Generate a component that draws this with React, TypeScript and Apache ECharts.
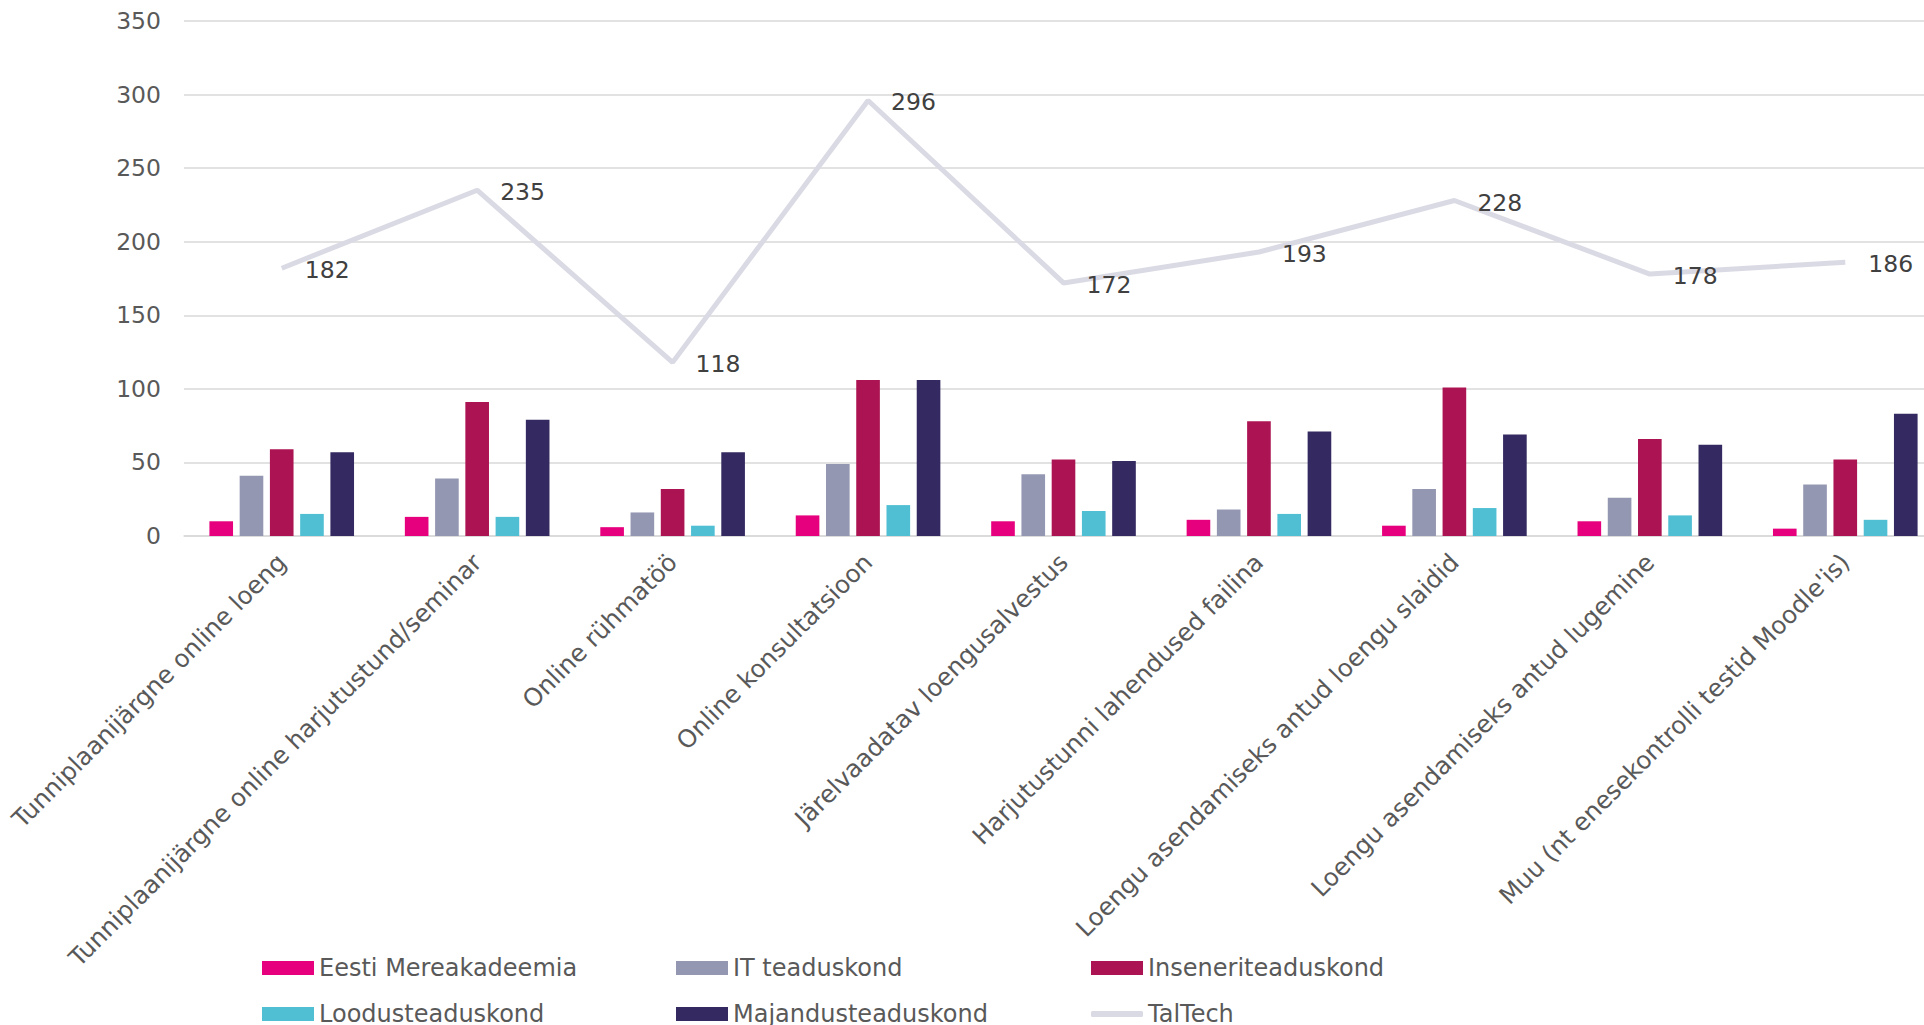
import React, { useEffect, useRef } from "react";
import * as echarts from "echarts";

const categories = [
  "Tunniplaanijärgne online loeng",
  "Tunniplaanijärgne online harjutustund/seminar",
  "Online rühmatöö",
  "Online konsultatsioon",
  "Järelvaadatav loengusalvestus",
  "Harjutustunni lahendused failina",
  "Loengu asendamiseks antud loengu slaidid",
  "Loengu asendamiseks antud lugemine",
  "Muu (nt enesekontrolli testid Moodle'is)",
];

const mereakadeemia = [10, 13, 6, 14, 10, 11, 7, 10, 5];
const itTeaduskond = [41, 39, 16, 49, 42, 18, 32, 26, 35];
const inseneri = [59, 91, 32, 106, 52, 78, 101, 66, 52];
const loodus = [15, 13, 7, 21, 17, 15, 19, 14, 11];
const majandus = [57, 79, 57, 106, 51, 71, 69, 62, 83];
const talTech = [182, 235, 118, 296, 172, 193, 228, 178, 186];

const yTicks = { min: 0, max: 350, interval: 50 };

const FONT = "DejaVu Sans";
const LINE_COLOR = "#DADAE5";

export default function App() {
  const ref = useRef<HTMLDivElement>(null);
  useEffect(() => {
    if (!ref.current) return;
    const chart = echarts.init(ref.current, undefined, { renderer: "svg" });
    const barNames = [
      "Eesti Mereakadeemia",
      "IT teaduskond",
      "Inseneriteaduskond",
      "Loodusteaduskond",
      "Majandusteaduskond",
    ];
    const barData = [mereakadeemia, itTeaduskond, inseneri, loodus, majandus];
    const colors = ["#E6007E", "#9497B1", "#AC1352", "#50BFD4", "#342960"];
    const legendPos = [
      { name: "Eesti Mereakadeemia", left: 262, top: 956 },
      { name: "IT teaduskond", left: 676, top: 956 },
      { name: "Inseneriteaduskond", left: 1091, top: 956 },
      { name: "Loodusteaduskond", left: 262, top: 1002 },
      { name: "Majandusteaduskond", left: 676, top: 1002 },
      { name: "TalTech", left: 1091, top: 1002 },
    ];
    chart.setOption({
      animation: false,
      color: colors,
      textStyle: { fontFamily: FONT },
      grid: { left: 184, right: 0, top: 21, bottom: 489, containLabel: false },
      legend: legendPos.map((l) => ({
        data: [
          l.name === "TalTech"
            ? {
                name: l.name,
                icon: "roundRect",
                itemStyle: { color: LINE_COLOR, opacity: 1 },
              }
            : { name: l.name, icon: "rect" },
        ],
        left: l.left,
        top: l.top,
        padding: 0,
        itemWidth: 52,
        itemHeight: l.name === "TalTech" ? 6 : 14,
        itemGap: 6,
        selectedMode: false,
        textStyle: { fontFamily: FONT, fontSize: 24, color: "#595959", padding: [0, 0, 0, 0] },
      })),
      xAxis: {
        type: "category",
        data: categories,
        axisLine: { lineStyle: { color: "#D9D9D9", width: 1.5 } },
        axisTick: { show: false },
        axisLabel: {
          interval: 0,
          rotate: 45,
          margin: 22,
          fontSize: 24.5,
          fontFamily: FONT,
          color: "#595959",
        },
      },
      yAxis: {
        type: "value",
        min: yTicks.min,
        max: yTicks.max,
        interval: yTicks.interval,
        axisLine: { show: false },
        axisTick: { show: false },
        splitLine: { lineStyle: { color: "#D9D9D9", width: 1.5 } },
        axisLabel: { fontSize: 23.5, fontFamily: FONT, color: "#595959", margin: 23 },
      },
      series: [
        ...barNames.map((n, i) => ({
          name: n,
          type: "bar",
          data: barData[i],
          barGap: "28%",
          barCategoryGap: "26%",
          itemStyle: { color: colors[i] },
        })),
        {
          name: "TalTech",
          type: "line",
          data: talTech,
          symbol: "circle",
          symbolSize: 2,
          itemStyle: { color: "rgba(0,0,0,0)" },
          lineStyle: { color: LINE_COLOR, width: 5 },
          label: {
            show: true,
            position: "right",
            distance: 22,
            offset: [0, 2],
            fontSize: 23.5,
            fontFamily: FONT,
            color: "#404040",
          },
          z: 3,
        },
      ],
    });
    return () => chart.dispose();
  }, []);
  return (
    <div
      style={{
        position: "absolute",
        left: 0,
        top: 0,
        width: 1924,
        height: 1025,
        overflow: "hidden",
      }}
    >
      <div ref={ref} style={{ width: 1943, height: 1025 }} />
    </div>
  );
}
